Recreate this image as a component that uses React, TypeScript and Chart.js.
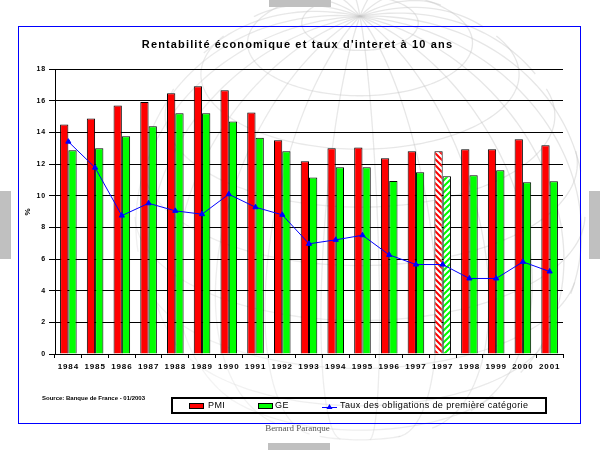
import React, { useEffect, useRef } from "react";
import { Chart, registerables } from "chart.js";

Chart.register(...registerables);

// ---- data ----
const categories = [
  "1984", "1985", "1986", "1987", "1988", "1989", "1990", "1991", "1992", "1993",
  "1994", "1995", "1996", "1997", "1997", "1998", "1999", "2000", "2001",
];
const pmiValues = [
  14.5, 14.88, 15.7, 15.91, 16.47, 16.91, 16.66, 15.26, 13.5, 12.17,
  12.99, 13.05, 12.36, 12.8, 12.8, 12.93, 12.93, 13.56, 13.18,
];
const geValues = [
  12.87, 12.99, 13.75, 14.38, 15.2, 15.2, 14.69, 13.66, 12.8, 11.14,
  11.79, 11.79, 10.93, 11.48, 11.23, 11.29, 11.6, 10.85, 10.91,
];
const bondRates = [
  13.41, 11.77, 8.74, 9.52, 9.04, 8.83, 10.09, 9.27, 8.79, 6.96,
  7.21, 7.5, 6.26, 5.65, 5.65, 4.77, 4.77, 5.82, 5.21,
];
// categories drawn with hatched bars (second 1997 column)
const hatchedCategories = [14];
const yMin = 0;
const yMax = 18;
const yStep = 2;

const titleText = "Rentabilité économique et taux d'interet à 10 ans";
const yAxisTitle = "%";
const seriesNames = ["PMI", "GE", "Taux des obligations de première catégorie"];
const sourceText = "Source: Banque de France - 01/2003";
const authorText = "Bernard Paranque";

const RED = "#ff0000";
const GREEN = "#00ff00";
const BLUE = "#0000ff";

function makeHatch(color: string, dir: "down" | "up"): CanvasPattern | string {
  const c = document.createElement("canvas");
  c.width = 6;
  c.height = 6;
  const g = c.getContext("2d");
  if (!g) return color;
  g.fillStyle = "#ffffff";
  g.fillRect(0, 0, 6, 6);
  g.strokeStyle = color;
  g.lineWidth = 2;
  g.beginPath();
  if (dir === "down") {
    g.moveTo(-3, -3); g.lineTo(9, 9);
    g.moveTo(-9, -3); g.lineTo(3, 9);
    g.moveTo(3, -3); g.lineTo(15, 9);
  } else {
    g.moveTo(-3, 9); g.lineTo(9, -3);
    g.moveTo(-9, 9); g.lineTo(3, -3);
    g.moveTo(3, 9); g.lineTo(15, -3);
  }
  g.stroke();
  const p = g.createPattern(c, "repeat");
  return p || color;
}

function drawGlobe(canvas: HTMLCanvasElement) {
  const ctx = canvas.getContext("2d");
  if (!ctx) return;
  ctx.clearRect(0, 0, 600, 450);
  const cx = 360, cy = 215, R = 225;
  const tilt = (28 * Math.PI) / 180;
  const rot = (35 * Math.PI) / 180;
  const proj = (lat: number, lon: number) => {
    const x = Math.cos(lat) * Math.sin(lon + rot);
    const y = Math.sin(lat);
    const z = Math.cos(lat) * Math.cos(lon + rot);
    const y2 = y * Math.cos(tilt) - z * Math.sin(tilt);
    const z2 = y * Math.sin(tilt) + z * Math.cos(tilt);
    return { x: cx + R * x, y: cy - R * y2, z: z2 };
  };
  ctx.strokeStyle = "rgba(195,195,195,0.42)";
  ctx.lineWidth = 1.3;
  const d = Math.PI / 180;
  for (let lon = 0; lon < 360; lon += 15) {
    ctx.beginPath();
    let pen = false;
    for (let lat = -90; lat <= 90; lat += 2) {
      const p = proj(lat * d, lon * d);
      if (p.z < 0) { pen = false; continue; }
      if (!pen) { ctx.moveTo(p.x, p.y); pen = true; } else ctx.lineTo(p.x, p.y);
    }
    ctx.stroke();
  }
  for (let lat = -75; lat <= 75; lat += 15) {
    ctx.beginPath();
    let pen = false;
    for (let lon = 0; lon <= 360; lon += 2) {
      const p = proj(lat * d, lon * d);
      if (p.z < 0) { pen = false; continue; }
      if (!pen) { ctx.moveTo(p.x, p.y); pen = true; } else ctx.lineTo(p.x, p.y);
    }
    ctx.stroke();
  }
  const grad = ctx.createLinearGradient(60, 440, 430, 110);
  grad.addColorStop(0, "rgba(255,255,255,1)");
  grad.addColorStop(0.45, "rgba(255,255,255,0.3)");
  grad.addColorStop(1, "rgba(255,255,255,0)");
  ctx.globalCompositeOperation = "destination-out";
  ctx.fillStyle = grad;
  ctx.fillRect(0, 0, 600, 450);
  ctx.globalCompositeOperation = "source-over";
}

const letterSpacingPlugin = {
  id: "letterSpacing",
  beforeDraw(chart: any) {
    (chart.ctx as any).letterSpacing = "0.9px";
  },
};

export default function App() {
  const canvasRef = useRef<HTMLCanvasElement | null>(null);
  const bgRef = useRef<HTMLCanvasElement | null>(null);

  useEffect(() => {
    if (bgRef.current) drawGlobe(bgRef.current);
    const canvas = canvasRef.current;
    if (!canvas) return;
    const redHatch = makeHatch(RED, "down");
    const greenHatch = makeHatch(GREEN, "up");
    const pmiColors = categories.map((_, i) => (hatchedCategories.includes(i) ? redHatch : RED));
    const geColors = categories.map((_, i) => (hatchedCategories.includes(i) ? greenHatch : GREEN));

    const chart = new Chart(canvas, {
      type: "bar",
      data: {
        labels: categories,
        datasets: [
          {
            type: "line",
            label: seriesNames[2],
            data: bondRates,
            borderColor: BLUE,
            backgroundColor: BLUE,
            borderWidth: 1,
            pointStyle: "triangle",
            pointRadius: 3,
            pointBorderWidth: 1,
            tension: 0,
            order: 0,
          } as any,
          {
            type: "bar",
            label: seriesNames[0],
            data: pmiValues,
            backgroundColor: pmiColors as any,
            borderColor: "#000000",
            borderWidth: 1,
            categoryPercentage: 0.62,
            barPercentage: 1,
            order: 1,
          },
          {
            type: "bar",
            label: seriesNames[1],
            data: geValues,
            backgroundColor: geColors as any,
            borderColor: "#000000",
            borderWidth: 1,
            categoryPercentage: 0.62,
            barPercentage: 1,
            order: 1,
          },
        ],
      },
      options: {
        animation: false,
        responsive: false,
        maintainAspectRatio: false,
        devicePixelRatio: 1,
        layout: { padding: { left: 18, top: 69, right: 37, bottom: 66 } },
        plugins: {
          legend: { display: false },
          title: { display: false },
          tooltip: { enabled: false },
        },
        scales: {
          x: {
            offset: true,
            grid: {
              display: true,
              drawOnChartArea: false,
              drawTicks: true,
              tickLength: 4,
              color: "#000000",
              offset: true,
            },
            border: { display: true, color: "#000000", width: 1 },
            ticks: {
              color: "#000000",
              padding: 4,
              maxRotation: 0,
              autoSkip: false,
              font: { family: "'Liberation Sans', Arial, sans-serif", size: 8, weight: "bold" },
            },
            afterFit: (axis: any) => { axis.height = 30; },
          },
          y: {
            min: yMin,
            max: yMax,
            grid: {
              color: "#000000",
              lineWidth: 1,
              drawTicks: true,
              tickLength: 6,
            },
            border: { display: true, color: "#000000", width: 1 },
            ticks: {
              stepSize: yStep,
              color: "#000000",
              padding: 3,
              font: { family: "'Liberation Sans', Arial, sans-serif", size: 7, weight: "bold" },
            },
            afterFit: (axis: any) => { axis.width = 37; },
          },
        },
      },
      plugins: [letterSpacingPlugin],
    });
    return () => chart.destroy();
  }, []);

  const grayTab: React.CSSProperties = { position: "absolute", background: "#c0c0c0" };

  return (
    <div
      style={{
        position: "fixed",
        left: 0,
        top: 0,
        width: 600,
        height: 450,
        background: "#ffffff",
        overflow: "hidden",
        fontFamily: "'Liberation Sans', Arial, sans-serif",
      }}
    >
      <canvas ref={bgRef} width={600} height={450} style={{ position: "absolute", left: 0, top: 0 }} />
      <div style={{ ...grayTab, left: 269, top: 0, width: 62, height: 7 }} />
      <div style={{ ...grayTab, left: 268, top: 443, width: 62, height: 7 }} />
      <div style={{ ...grayTab, left: 0, top: 191, width: 11, height: 68 }} />
      <div style={{ ...grayTab, left: 589, top: 191, width: 11, height: 68 }} />
      <div
        style={{
          position: "absolute",
          left: 18,
          top: 26,
          width: 561,
          height: 396,
          border: "1px solid #0000ff",
        }}
      />
      <canvas
        ref={canvasRef}
        width={600}
        height={450}
        style={{ position: "absolute", left: 0, top: 0, width: 600, height: 450 }}
      />
      <div
        style={{
          position: "absolute",
          left: 0,
          width: 595,
          top: 38,
          textAlign: "center",
          fontSize: 11,
          fontWeight: "bold",
          letterSpacing: "1.15px",
          color: "#000",
          whiteSpace: "nowrap",
        }}
      >
        {titleText}
      </div>
      <div
        style={{
          position: "absolute",
          left: 21,
          top: 206,
          width: 14,
          height: 12,
          transform: "rotate(-90deg)",
          fontSize: 8,
          fontWeight: "bold",
          textAlign: "center",
          lineHeight: "12px",
          color: "#000",
        }}
      >
        {yAxisTitle}
      </div>
      <div
        style={{
          position: "absolute",
          left: 42,
          top: 395,
          fontSize: 6,
          fontWeight: "bold",
          color: "#000",
          whiteSpace: "nowrap",
        }}
      >
        {sourceText}
      </div>
      <div
        style={{
          position: "absolute",
          left: 171,
          top: 397,
          width: 372,
          height: 13,
          border: "2px solid #000",
          fontSize: 9,
          letterSpacing: "0.4px",
          color: "#000",
          whiteSpace: "nowrap",
        }}
      >
        <div style={{ position: "absolute", left: 16, top: 4, width: 13, height: 4, background: RED, border: "1px solid #000" }} />
        <div style={{ position: "absolute", left: 35, top: 1, lineHeight: "11px" }}>{seriesNames[0]}</div>
        <div style={{ position: "absolute", left: 85, top: 4, width: 13, height: 4, background: GREEN, border: "1px solid #000" }} />
        <div style={{ position: "absolute", left: 102, top: 1, lineHeight: "11px" }}>{seriesNames[1]}</div>
        <svg style={{ position: "absolute", left: 149, top: 2 }} width={16} height={10}>
          <line x1={0} y1={6.5} x2={15} y2={6.5} stroke={BLUE} strokeWidth={1} />
          <polygon points="7.5,3 10.5,8 4.5,8" fill={BLUE} />
        </svg>
        <div style={{ position: "absolute", left: 167, top: 1, lineHeight: "11px" }}>{seriesNames[2]}</div>
      </div>
      <div
        style={{
          position: "absolute",
          left: 0,
          width: 595,
          top: 423,
          textAlign: "center",
          fontSize: 9,
          fontFamily: "'Liberation Serif', 'Times New Roman', serif",
          color: "#555",
        }}
      >
        {authorText}
      </div>
    </div>
  );
}
